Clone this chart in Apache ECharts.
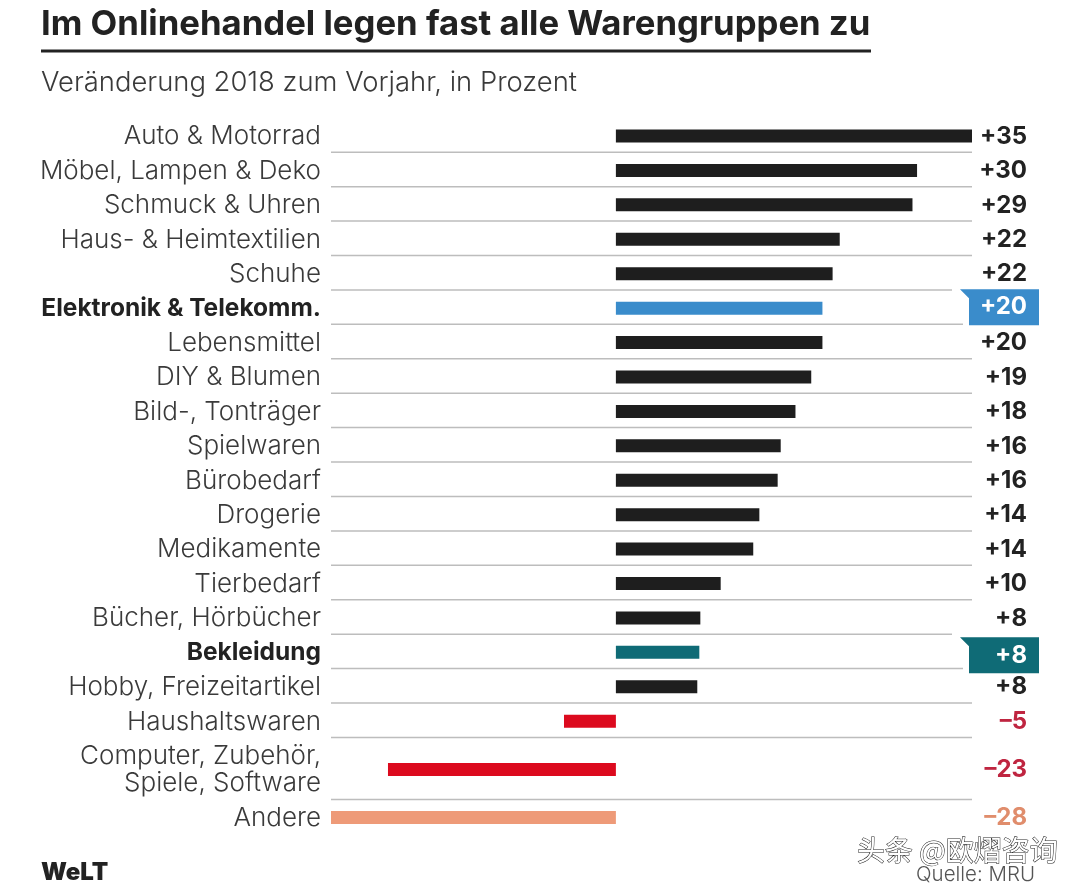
<!DOCTYPE html>
<html>
<head>
<meta charset="utf-8">
<title>Im Onlinehandel legen fast alle Warengruppen zu</title>
<script src="https://cdn.jsdelivr.net/npm/echarts@6/dist/echarts.min.js"></script>
<style>
  html, body { margin: 0; padding: 0; background: #fff; }
  #chart { width: 1080px; height: 890px; }
</style>
</head>
<body>
<div id="chart"></div>
<script>
// Warengruppen von oben nach unten
const categories = [
    'Auto & Motorrad', 'Möbel, Lampen & Deko', 'Schmuck & Uhren', 'Haus- & Heimtextilien',
    'Schuhe', 'Elektronik & Telekomm.', 'Lebensmittel', 'DIY & Blumen', 'Bild-, Tonträger',
    'Spielwaren', 'Bürobedarf', 'Drogerie', 'Medikamente', 'Tierbedarf', 'Bücher, Hörbücher',
    'Bekleidung', 'Hobby, Freizeitartikel', 'Haushaltswaren',
    'Computer, Zubehör,\nSpiele, Software', 'Andere'
];
// Balkenlängen
const barValues = [
    35, 29.6, 29.15, 22, 21.3, 20.3, 20.3, 19.2, 17.65, 16.2,
    15.9, 14.1, 13.5, 10.3, 8.3, 8.2, 8, -5.1, -22.4, -28
];
// Beschriftung rechts
const valueLabels = [
    '+35', '+30', '+29', '+22', '+22', '+20', '+20', '+19', '+18', '+16',
    '+16', '+14', '+14', '+10', '+8', '+8', '+8', '–5', '–23', '–28'
];

const FONT = 'Inter, Lato, "Noto Sans", sans-serif';
const highlightColors = { 'Elektronik & Telekomm.': '#3a8ccb', 'Bekleidung': '#0f6b76' };
const tagShift = { 'Elektronik & Telekomm.': -1, 'Bekleidung': 3 };
const negativeBar = { 'Haushaltswaren': '#dc0a1e', 'Computer, Zubehör,\nSpiele, Software': '#dc0a1e', 'Andere': '#ee9a78' };
const negativeText = { 'Haushaltswaren': '#bf2540', 'Computer, Zubehör,\nSpiele, Software': '#bf2540', 'Andere': '#e08d6c' };

// Zeilenmitten: zweizeilige Kategorie bekommt eine höhere Zeile
const rowSpans = categories.map(c => c.includes('\n') ? 1.8 : 1);
const rowCenters = [];
let rowTop = 0;
rowSpans.forEach(span => {
    rowCenters.push(rowTop + span / 2);
    rowTop += span;
});

const chart = echarts.init(document.getElementById('chart'), null, { renderer: 'canvas' });

function renderRow(params, api) {
    const i = api.value(2);
    const name = categories[i];
    const value = api.value(0);
    const center = api.coord([0, api.value(1)]);
    const end = api.coord([value, api.value(1)]);
    const left = api.coord([-28, 0])[0];
    const right = api.coord([35, 0])[0];
    const rowHeight = api.size([0, 1])[1];
    const highlight = highlightColors[name];
    const barColor = highlight || negativeBar[name] || '#1e1e1e';
    const children = [];

    children.push({
        type: 'rect',
        shape: { x: Math.min(center[0], end[0]), y: center[1] - 6.5, width: Math.abs(end[0] - center[0]), height: 13 },
        style: { fill: barColor }
    });

    // Trennlinie unter der Zeile, kürzer neben den Fähnchen
    if (i < categories.length - 1) {
        let lineEnd = right;
        if (highlightColors[categories[i + 1]]) lineEnd = right - 20;
        if (highlight) lineEnd = right - 9;
        const lineY = center[1] + rowHeight * rowSpans[i] / 2 - 1;
        children.push({
            type: 'line',
            shape: { x1: left, y1: lineY, x2: lineEnd, y2: lineY },
            style: { stroke: '#bdbdbd', lineWidth: 1.5 }
        });
    }

    let textShift = 0.5;
    if (highlight) {
        textShift = tagShift[name];
        const y0 = center[1] - 18 + textShift;
        const y1 = center[1] + 18 + textShift;
        children.push({
            type: 'polygon',
            shape: { points: [[right - 12, y0], [right + 67, y0], [right + 67, y1], [right - 3, y1], [right - 3, y0 + 9]] },
            style: { fill: highlight }
        });
    }

    children.push({
        type: 'text',
        style: {
            text: valueLabels[i],
            x: right + 55,
            y: center[1] + textShift,
            align: 'right',
            verticalAlign: 'middle',
            fill: highlight ? '#fff' : (negativeText[name] || '#222'),
            font: 'bold 24px ' + FONT
        }
    });

    children.push({
        type: 'text',
        style: {
            text: name,
            x: left - 10,
            y: center[1] + 0.5,
            align: 'right',
            verticalAlign: 'middle',
            lineHeight: 27,
            fill: highlight ? '#222' : '#3a3a3a',
            font: (highlight ? 'bold 24.5px ' : '300 26px ') + FONT
        }
    });

    return { type: 'group', children: children };
}

chart.setOption({
    animation: false,
    backgroundColor: '#fff',
    title: [
        { text: 'Im Onlinehandel legen fast alle Warengruppen zu', left: 36, top: 2, textStyle: { fontFamily: FONT, fontWeight: 'bold', fontSize: 34.7, color: '#222' } },
        { text: 'Veränderung 2018 zum Vorjahr, in Prozent', left: 36, top: 64, textStyle: { fontFamily: FONT, fontWeight: 300, fontSize: 27.4, color: '#3a3a3a' } }
    ],
    grid: { left: 331, width: 641, top: 118.8, height: 716 },
    xAxis: { type: 'value', min: -28, max: 35, show: false },
    yAxis: { type: 'value', inverse: true, min: 0, max: rowTop, show: false },
    series: [{
        type: 'custom',
        silent: true,
        clip: false,
        renderItem: renderRow,
        data: barValues.map((v, i) => [v, rowCenters[i], i]),
        encode: { x: 0, y: 1 }
    }],
    graphic: [
        { type: 'rect', shape: { x: 41, y: 49.5, width: 830, height: 3 }, style: { fill: '#222' } },
        { type: 'text', x: 41, y: 861, style: { text: 'WeLT', font: '900 24px ' + FONT, fill: '#222' } },
        { type: 'text', x: 916, y: 864, style: { text: 'Quelle: MRU', font: '300 20.5px ' + FONT, fill: '#555' } },
        { type: 'text', x: 857, y: 836, style: { text: '头条 @欧熠咨询', font: '28px "Noto Sans CJK SC"', fill: '#fff', stroke: '#222', lineWidth: 1 } }
    ]
});
</script>
</body>
</html>
